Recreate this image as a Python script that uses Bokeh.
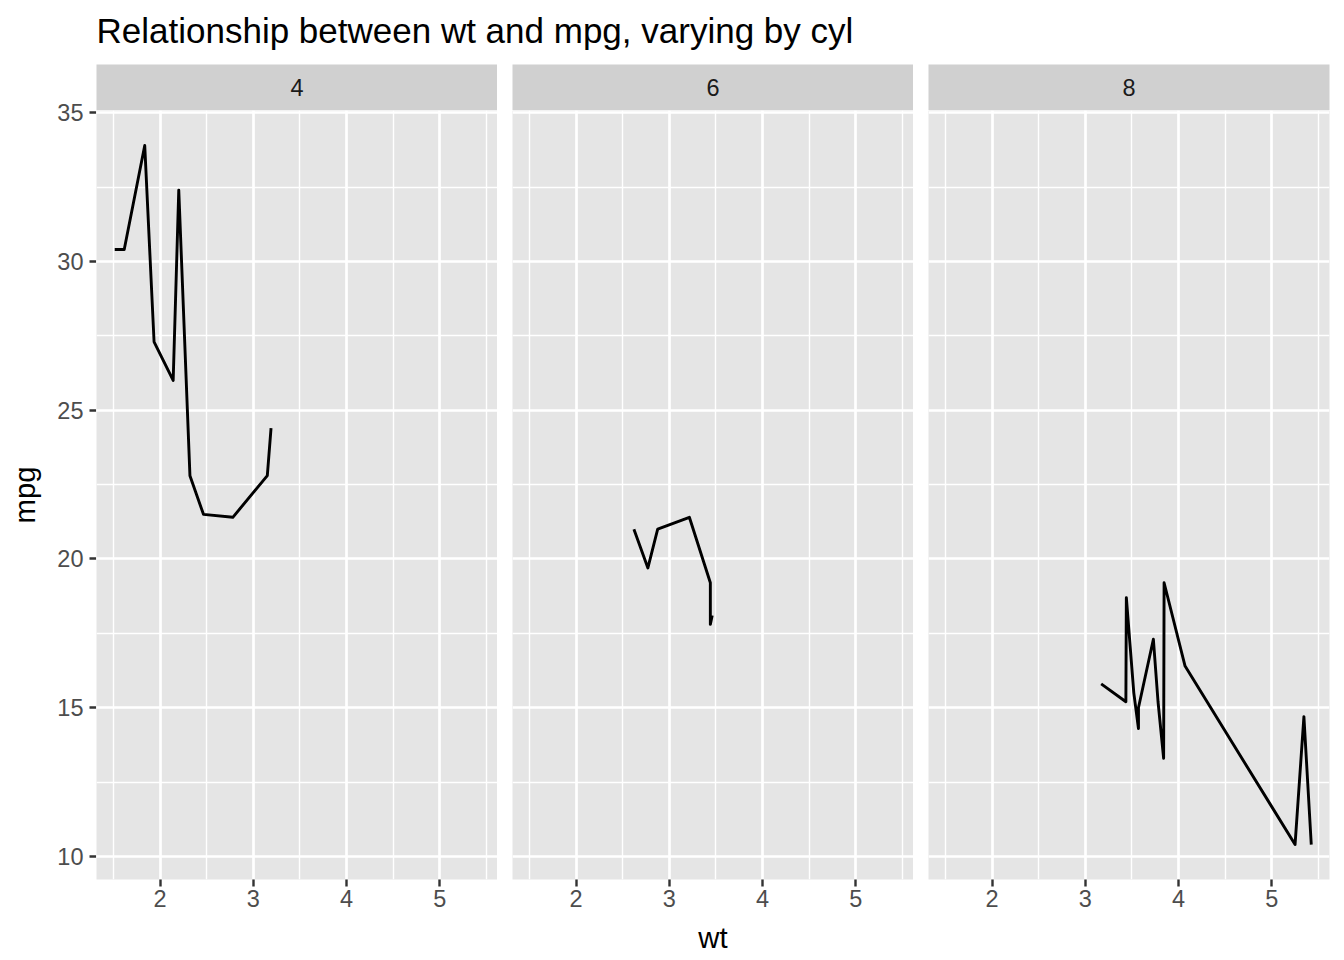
from bokeh.plotting import figure
from bokeh.layouts import row, column
from bokeh.models import Range1d, FixedTicker
from bokeh.embed import file_html
from bokeh.resources import INLINE
from bokeh.core.properties import value

TITLE = "Relationship between wt and mpg, varying by cyl"
X_LABEL = "wt"
Y_LABEL = "mpg"
CYL = ["4", "6", "8"]

WT_4 = [1.513, 1.615, 1.835, 1.935, 2.140, 2.200, 2.320, 2.465, 2.780, 3.150, 3.190]
MPG_4 = [30.4, 30.4, 33.9, 27.3, 26.0, 32.4, 22.8, 21.5, 21.4, 22.8, 24.4]
WT_6 = [2.620, 2.770, 2.875, 3.215, 3.440, 3.440, 3.460]
MPG_6 = [21.0, 19.7, 21.0, 21.4, 19.2, 17.8, 18.1]
WT_8 = [3.170, 3.435, 3.440, 3.520, 3.570, 3.570, 3.730, 3.780, 3.840, 3.845,
        4.070, 5.250, 5.345, 5.424]
MPG_8 = [15.8, 15.2, 18.7, 15.5, 14.3, 15.0, 17.3, 15.2, 13.3, 19.2,
         16.4, 10.4, 14.7, 10.4]

X_TICKS = [2, 3, 4, 5]
X_MINOR = [1.5, 2.5, 3.5, 4.5, 5.5]
Y_TICKS = [10, 15, 20, 25, 30, 35]
Y_MINOR = [12.5, 17.5, 22.5, 27.5, 32.5]

SERIES = [(WT_4, MPG_4), (WT_6, MPG_6), (WT_8, MPG_8)]

FONT = "Liberation Sans"
PANEL_BG = "#E5E5E5"
STRIP_BG = "#D0D0D0"

all_wt = WT_4 + WT_6 + WT_8
all_mpg = MPG_4 + MPG_6 + MPG_8
xpad = 0.05 * (max(all_wt) - min(all_wt))
ypad = 0.05 * (max(all_mpg) - min(all_mpg))
xr = Range1d(min(all_wt) - xpad, max(all_wt) + xpad)
yr = Range1d(min(all_mpg) - ypad, max(all_mpg) + ypad)

FRAME_W = 401
FRAME_H = 769
STRIP_H = 46
TITLE_H = 64
BOTTOM = 80
AXIS_W = 96


def borders(i):
    left = 0 if i == 0 else 15
    right = 15 if i == 2 else 0
    return left, right


def style_axis(ax):
    ax.axis_line_color = None
    ax.major_tick_line_color = "#333333"
    ax.major_tick_line_width = 2.4
    ax.major_tick_out = 7
    ax.major_tick_in = 0
    ax.minor_tick_line_color = None
    ax.major_label_text_font = FONT
    ax.major_label_text_font_size = "23.5px"
    ax.major_label_text_color = "#4D4D4D"
    ax.axis_label_text_font = FONT
    ax.axis_label_text_font_size = "29.3px"
    ax.axis_label_text_font_style = "normal"
    ax.axis_label_text_color = "black"


def make_strip(i, label):
    left, right = borders(i)
    s = figure(frame_width=FRAME_W, frame_height=STRIP_H,
               x_range=Range1d(0, 1), y_range=Range1d(0, 1),
               x_axis_location=None, y_axis_location=None,
               min_border_left=left, min_border_right=right,
               min_border_top=0, min_border_bottom=0,
               background_fill_color=STRIP_BG, border_fill_color="white",
               outline_line_color=None, toolbar_location=None,
               output_backend="svg")
    s.grid.visible = False
    s.text(x=[0.5], y=[0.5], text=[label], text_align="center",
           text_baseline="middle", text_font=value(FONT),
           text_font_size="23.5px", text_color="#1A1A1A")
    return s


def make_panel(i, wt, mpg):
    left, right = borders(i)
    p = figure(frame_width=FRAME_W, frame_height=FRAME_H,
               x_range=xr, y_range=yr, y_axis_location=None,
               min_border_left=left, min_border_right=right,
               min_border_top=0, min_border_bottom=BOTTOM,
               background_fill_color=PANEL_BG, border_fill_color="white",
               outline_line_color=None, toolbar_location=None,
               output_backend="svg")
    for g in p.xgrid:
        g.ticker = FixedTicker(ticks=X_TICKS, minor_ticks=X_MINOR)
    for g in p.ygrid:
        g.ticker = FixedTicker(ticks=Y_TICKS, minor_ticks=Y_MINOR)
    p.grid.grid_line_color = "white"
    p.grid.grid_line_width = 2.7
    p.grid.minor_grid_line_color = "white"
    p.grid.minor_grid_line_width = 1.4

    for ax in p.axis:
        style_axis(ax)
    p.xaxis.ticker = FixedTicker(ticks=X_TICKS, minor_ticks=X_MINOR)
    p.xaxis.major_label_standoff = 3
    if i == 1:
        p.xaxis.axis_label = X_LABEL
        p.xaxis.axis_label_standoff = 11

    p.line(wt, mpg, line_color="black", line_width=2.9, line_join="round")
    return p


# y axis (shared, shown once at the left like ggplot facets)
yfig = figure(frame_width=1, frame_height=FRAME_H,
              x_range=Range1d(0, 1), y_range=yr, x_axis_location=None,
              y_axis_location="left",
              min_border_left=AXIS_W - 1, min_border_right=0,
              min_border_top=STRIP_H, min_border_bottom=BOTTOM,
              background_fill_color=None, border_fill_color="white",
              outline_line_color=None, toolbar_location=None,
              output_backend="svg")
yfig.grid.visible = False
for ax in yfig.yaxis:
    style_axis(ax)
yfig.yaxis.ticker = FixedTicker(ticks=Y_TICKS, minor_ticks=Y_MINOR)
yfig.yaxis.major_tick_in = 1
yfig.yaxis.major_tick_out = 6
yfig.yaxis.major_label_standoff = 6
yfig.yaxis.axis_label = Y_LABEL
yfig.yaxis.axis_label_standoff = 13

TOTAL_W = AXIS_W + 3 * FRAME_W + 45
title_fig = figure(width=TOTAL_W, height=TITLE_H,
                   x_range=Range1d(0, TOTAL_W),
                   y_range=Range1d(TITLE_H, 0), x_axis_location=None,
                   y_axis_location=None, min_border=0,
                   outline_line_color=None, toolbar_location=None,
                   output_backend="svg")
title_fig.grid.visible = False
title_fig.text(x=[AXIS_W], y=[30], text=[TITLE], text_align="left",
               text_baseline="alphabetic", text_font=value(FONT),
               text_font_size="35px", text_color="black")

cols = [yfig]
for i, (label, (wt, mpg)) in enumerate(zip(CYL, SERIES)):
    cols.append(column(make_strip(i, label), make_panel(i, wt, mpg)))

layout = column(title_fig, row(*cols))

open("out.html", "w").write(file_html(layout, INLINE))
